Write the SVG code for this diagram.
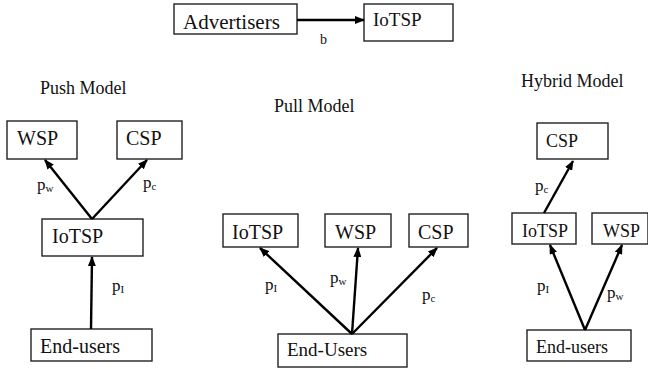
<svg xmlns="http://www.w3.org/2000/svg" width="648" height="369" viewBox="0 0 648 369">
<style>
  .box { fill: #fff; stroke: #222; stroke-width: 1.4; }
  .lbl { font-size: 20px; }
  .sm { font-size: 18px; }
  .ttl { font-size: 18px; }
  .p { font-size: 17px; }
  .sub { font-size: 11px; }
  .conn line { stroke: #000; stroke-width: 2.4; marker-end: url(#ah); }
</style>
<defs>
  <marker id="ah" markerUnits="userSpaceOnUse" markerWidth="10" markerHeight="8" refX="9" refY="4" orient="auto">
    <path d="M0,0 L10,4 L0,8 Z" fill="#000"/>
  </marker>
</defs>
<rect width="648" height="369" fill="#fff"/>
<g font-family="Liberation Serif, serif" fill="#111">

<!-- titles -->
<text class="ttl" x="40" y="94">Push Model</text>
<text class="ttl" x="274" y="112">Pull Model</text>
<text class="ttl" x="521" y="87">Hybrid Model</text>

<!-- top -->
<g id="advertisers"><rect class="box" x="174" y="4" width="123" height="30"/><text font-size="21" x="183" y="29">Advertisers</text></g>
<g id="iotsp-top"><rect class="box" x="364" y="4" width="89" height="37"/><text font-size="19" x="373" y="26">IoTSP</text></g>

<!-- push -->
<g id="push-wsp"><rect class="box" x="7" y="121" width="70" height="38"/><text class="lbl" x="17" y="145">WSP</text></g>
<g id="push-csp"><rect class="box" x="117" y="121" width="65" height="38"/><text class="lbl" x="126" y="145">CSP</text></g>
<g id="push-iotsp"><rect class="box" x="42" y="219" width="101" height="37"/><text class="lbl" x="52" y="243">IoTSP</text></g>
<g id="push-endusers"><rect class="box" x="31" y="329" width="121" height="32"/><text class="lbl" x="40" y="353">End-users</text></g>

<!-- pull -->
<g id="pull-iotsp"><rect class="box" x="223" y="214" width="75" height="33"/><text class="lbl" x="232" y="239">IoTSP</text></g>
<g id="pull-wsp"><rect class="box" x="325" y="214" width="66" height="33"/><text class="lbl" x="335" y="239">WSP</text></g>
<g id="pull-csp"><rect class="box" x="409" y="214" width="59" height="33"/><text class="lbl" x="418" y="239">CSP</text></g>
<g id="pull-endusers"><rect class="box" x="278" y="334" width="129" height="33"/><text font-size="19" x="287" y="356">End-Users</text></g>

<!-- hybrid -->
<g id="hyb-csp"><rect class="box" x="537" y="123" width="71" height="36"/><text class="sm" x="546" y="147">CSP</text></g>
<g id="hyb-iotsp"><rect class="box" x="512" y="213" width="64" height="31"/><text class="sm" x="522" y="237">IoTSP</text></g>
<g id="hyb-wsp"><rect class="box" x="592" y="213" width="56" height="31"/><text class="sm" x="603" y="237">WSP</text></g>
<g id="hyb-endusers"><rect class="box" x="527" y="330" width="104" height="31"/><text class="sm" x="536" y="353">End-users</text></g>

<!-- connectors -->
<g id="connectors" class="conn">
  <line x1="297" y1="20" x2="364" y2="20"/>
  <line x1="92" y1="219" x2="45" y2="160"/>
  <line x1="92" y1="219" x2="147" y2="160"/>
  <line x1="91" y1="329" x2="92" y2="257"/>
  <line x1="352" y1="334" x2="260" y2="248"/>
  <line x1="352" y1="334" x2="358" y2="248"/>
  <line x1="352" y1="334" x2="437" y2="248"/>
  <line x1="544" y1="213" x2="573" y2="161"/>
  <line x1="585" y1="330" x2="550" y2="245"/>
  <line x1="585" y1="330" x2="622" y2="245"/>
</g>

<!-- connector labels -->
<g id="labels">
  <text font-size="14" x="320" y="44">b</text>
  <text class="p" x="37" y="190">p<tspan class="sub" dy="2">w</tspan></text>
  <text class="p" x="143" y="188">p<tspan class="sub" dy="2">c</tspan></text>
  <text class="p" x="112" y="291">p<tspan class="sub" dy="2">I</tspan></text>
  <text class="p" x="265" y="290">p<tspan class="sub" dy="2">I</tspan></text>
  <text class="p" x="330" y="283">p<tspan class="sub" dy="2">w</tspan></text>
  <text class="p" x="422" y="300">p<tspan class="sub" dy="2">c</tspan></text>
  <text class="p" x="535" y="191">p<tspan class="sub" dy="2">c</tspan></text>
  <text class="p" x="537" y="291">p<tspan class="sub" dy="2">I</tspan></text>
  <text class="p" x="607" y="298">p<tspan class="sub" dy="2">w</tspan></text>
</g>
</g>
</svg>
